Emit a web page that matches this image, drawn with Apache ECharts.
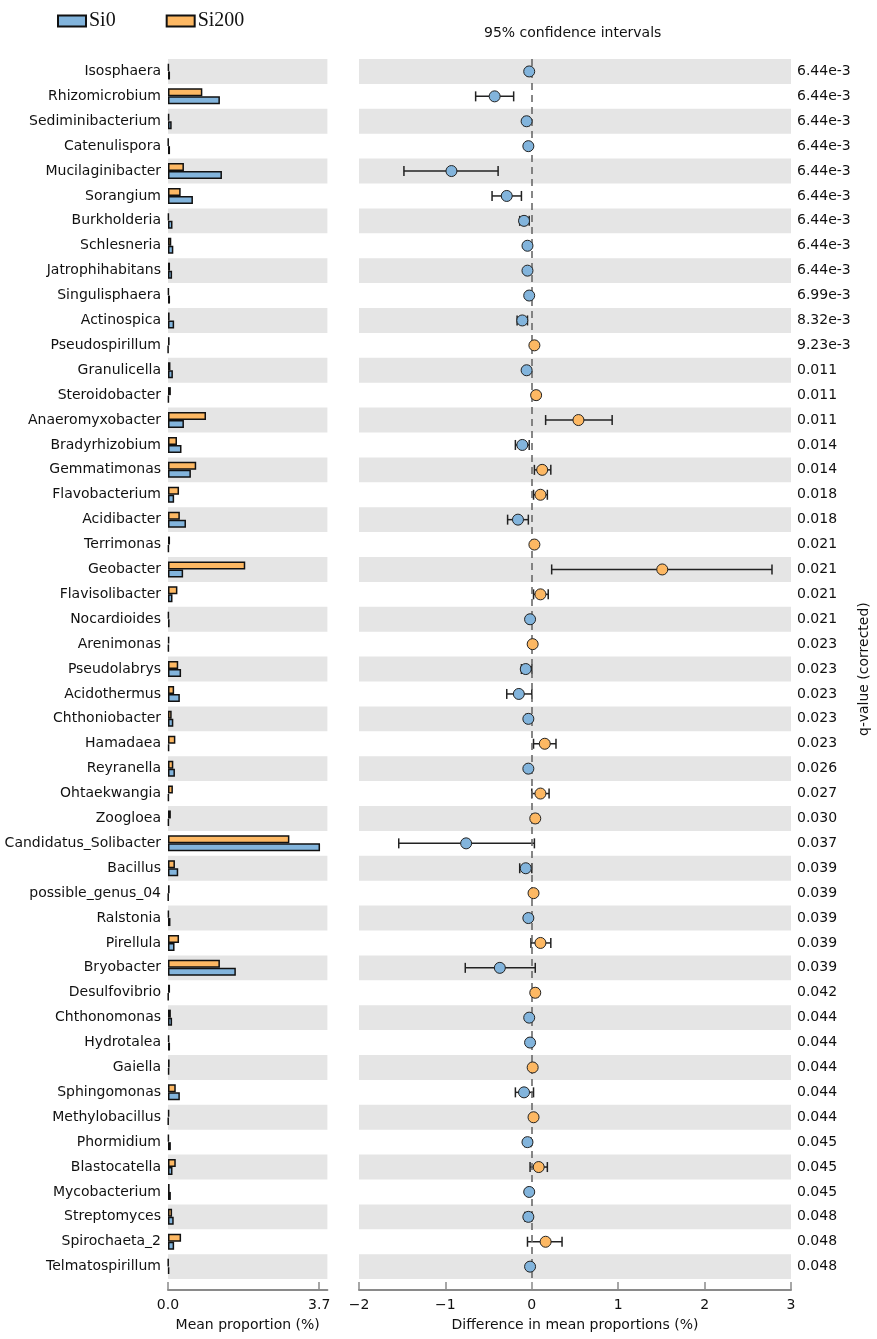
<!DOCTYPE html>
<html><head><meta charset="utf-8">
<script src="https://cdn.jsdelivr.net/npm/echarts@6/dist/echarts.min.js"></script>
<style>html,body{margin:0;padding:0;background:#fff}#c{width:877px;height:1339px}</style>
</head><body><div id="c"></div>
<script>
const genera = ['Isosphaera','Rhizomicrobium','Sediminibacterium','Catenulispora','Mucilaginibacter','Sorangium','Burkholderia','Schlesneria','Jatrophihabitans','Singulisphaera','Actinospica','Pseudospirillum','Granulicella','Steroidobacter','Anaeromyxobacter','Bradyrhizobium','Gemmatimonas','Flavobacterium','Acidibacter','Terrimonas','Geobacter','Flavisolibacter','Nocardioides','Arenimonas','Pseudolabrys','Acidothermus','Chthoniobacter','Hamadaea','Reyranella','Ohtaekwangia','Zoogloea','Candidatus_Solibacter','Bacillus','possible_genus_04','Ralstonia','Pirellula','Bryobacter','Desulfovibrio','Chthonomonas','Hydrotalea','Gaiella','Sphingomonas','Methylobacillus','Phormidium','Blastocatella','Mycobacterium','Streptomyces','Spirochaeta_2','Telmatospirillum'];
const si0Mean = [0.05,1.27,0.09,0.05,1.32,0.61,0.11,0.13,0.10,0.05,0.15,0.005,0.12,0.02,0.39,0.33,0.56,0.15,0.44,0.02,0.37,0.11,0.04,0.02,0.32,0.29,0.13,0.03,0.17,0.02,0.02,3.72,0.25,0.01,0.06,0.16,1.66,0.01,0.10,0.05,0.03,0.29,0.01,0.07,0.11,0.07,0.14,0.15,0.03];
const si200Mean = [0.02,0.84,0.03,0.01,0.39,0.31,0.02,0.08,0.05,0.02,0.04,0.04,0.06,0.07,0.93,0.22,0.69,0.27,0.29,0.05,1.89,0.23,0.02,0.03,0.25,0.15,0.09,0.18,0.13,0.12,0.07,2.97,0.17,0.04,0.02,0.27,1.27,0.05,0.07,0.03,0.04,0.19,0.03,0.02,0.19,0.04,0.10,0.32,0.01];
const meanDiff = [-0.03,-0.43,-0.06,-0.04,-0.93,-0.29,-0.09,-0.05,-0.05,-0.03,-0.11,0.03,-0.06,0.05,0.54,-0.11,0.12,0.10,-0.16,0.03,1.51,0.10,-0.02,0.01,-0.07,-0.15,-0.04,0.15,-0.04,0.10,0.04,-0.76,-0.07,0.02,-0.04,0.10,-0.37,0.04,-0.03,-0.02,0.01,-0.09,0.02,-0.05,0.08,-0.03,-0.04,0.16,-0.02];
const ciLow = [-0.05,-0.65,-0.09,-0.06,-1.48,-0.46,-0.14,-0.07,-0.07,-0.05,-0.17,0.01,-0.08,0.02,0.16,-0.19,0.03,0.02,-0.28,0.01,0.23,0.02,-0.04,-0.01,-0.12,-0.29,-0.07,0.02,-0.06,0.00,0.00,-1.54,-0.14,0.00,-0.06,-0.01,-0.77,0.01,-0.05,-0.04,-0.01,-0.19,0.00,-0.08,-0.02,-0.05,-0.08,-0.05,-0.04];
const ciHigh = [-0.01,-0.21,-0.03,-0.02,-0.39,-0.12,-0.03,-0.03,-0.03,-0.01,-0.05,0.05,-0.03,0.07,0.93,-0.03,0.22,0.18,-0.04,0.05,2.78,0.19,0.00,0.03,0.00,0.00,-0.01,0.28,-0.02,0.20,0.07,0.03,0.00,0.04,-0.02,0.22,0.04,0.07,-0.01,0.00,0.03,0.02,0.04,-0.01,0.18,-0.01,0.00,0.35,0.00];
const qValues = ['6.44e-3','6.44e-3','6.44e-3','6.44e-3','6.44e-3','6.44e-3','6.44e-3','6.44e-3','6.44e-3','6.99e-3','8.32e-3','9.23e-3','0.011','0.011','0.011','0.014','0.014','0.018','0.018','0.021','0.021','0.021','0.021','0.023','0.023','0.023','0.023','0.023','0.026','0.027','0.030','0.037','0.039','0.039','0.039','0.039','0.039','0.042','0.044','0.044','0.044','0.044','0.044','0.045','0.045','0.045','0.048','0.048','0.048'];
const groupNames = ['Si0','Si200'];
const leftTicks = [0, 3.7];

const BLUE = '#82b4dc', ORANGE = '#fdb863';
const FONT = 'DejaVu Sans';
const TXT = '#111';

const chart = echarts.init(document.getElementById('c'), null, {renderer:'canvas'});

const errData = genera.map((g,i)=>[ciLow[i], ciHigh[i], i]);
const dotData = genera.map((g,i)=>[meanDiff[i], i]);

const axisLineStyle = {color:'#8a8a8a', width:2};
const gridTop = 59, gridH = 49*24.9;
const n = genera.length;

chart.setOption({
  animation:false,
  textStyle:{fontFamily:FONT},
  legend:{
    data: groupNames, left:52, top:6, itemWidth:28, itemHeight:11, itemGap:50, icon:'rect',
    textStyle:{fontFamily:'Liberation Serif', fontSize:20, color:'#111', padding:[0,0,0,-2]}
  },
  graphic:[{type:'text', left:484, top:26, style:{text:'95% confidence intervals', font:'14px "DejaVu Sans"', fill:TXT}}],
  grid:[
    {left:168, top:gridTop, width:159.4, height:gridH, containLabel:false},
    {left:359, top:gridTop, width:432, height:gridH, containLabel:false}
  ],
  xAxis:[
    {gridIndex:0, type:'value', min:0, max:3.9, offset:11, position:'bottom',
     axisLine:{show:true, onZero:false, lineStyle:axisLineStyle},
     axisTick:{show:true, inside:true, length:8, customValues:leftTicks, lineStyle:{color:'#8a8a8a', width:1.5}},
     axisLabel:{customValues:leftTicks, formatter:v=>Number(v).toFixed(1), fontSize:14, color:TXT, margin:8},
     splitLine:{show:false},
     name:'Mean proportion (%)', nameLocation:'middle', nameGap:28, nameTextStyle:{fontSize:14, color:TXT}},
    {gridIndex:1, type:'value', min:-2, max:3, interval:1, offset:11, position:'bottom',
     axisLine:{show:true, onZero:false, lineStyle:axisLineStyle},
     axisTick:{show:true, inside:true, length:8, lineStyle:{color:'#8a8a8a', width:1.5}},
     axisLabel:{formatter:v=>String(v).replace('-','\u2212'), fontSize:14, color:TXT, margin:8},
     splitLine:{show:false},
     name:'Difference in mean proportions (%)', nameLocation:'middle', nameGap:28, nameTextStyle:{fontSize:14, color:TXT}}
  ],
  yAxis:[
    {gridIndex:0, type:'category', data:genera, inverse:true,
     axisLine:{show:false}, axisTick:{show:false},
     axisLabel:{fontSize:14, color:TXT, margin:7},
     splitArea:{show:true, areaStyle:{color:['#e5e5e5','rgba(255,255,255,0)']}}},
    {gridIndex:1, type:'category', data:qValues, inverse:true, position:'right',
     axisLine:{show:false}, axisTick:{show:false},
     axisLabel:{fontSize:14, color:TXT, margin:6},
     splitArea:{show:true, areaStyle:{color:['#e5e5e5','rgba(255,255,255,0)']}},
     name:'q-value (corrected)', nameLocation:'middle', nameRotate:90, nameGap:66,
     nameTextStyle:{fontSize:14, color:TXT}},
    {gridIndex:1, type:'value', inverse:true, min:-0.5, max:n-0.5, show:false,
     axisLine:{onZero:false}, splitLine:{show:false}}
  ],
  series:[
    {name:'Si200', type:'bar', xAxisIndex:0, yAxisIndex:0, data:si200Mean, barWidth:8, barGap:'0%',
     itemStyle:{color:ORANGE, borderColor:'#111', borderWidth:1.5}},
    {name:'Si0', type:'bar', xAxisIndex:0, yAxisIndex:0, data:si0Mean, barWidth:8, barGap:'0%',
     itemStyle:{color:BLUE, borderColor:'#111', borderWidth:1.5}},
    {type:'custom', xAxisIndex:1, yAxisIndex:2, data:errData, z:2,
     dimensions:['lo','hi','idx'], encode:{x:['lo','hi'], y:'idx'},
     renderItem:(params, api)=>{
       const a = api.coord([api.value(0), api.value(2)]);
       const b = api.coord([api.value(1), api.value(2)]);
       const h = 5;
       const st = {stroke:'#222', lineWidth:1.5};
       return {type:'group', children:[
         {type:'line', shape:{x1:a[0], y1:a[1], x2:b[0], y2:b[1]}, style:st},
         {type:'line', shape:{x1:a[0], y1:a[1]-h, x2:a[0], y2:a[1]+h}, style:st},
         {type:'line', shape:{x1:b[0], y1:b[1]-h, x2:b[0], y2:b[1]+h}, style:st}
       ]};
     },
     markLine:{silent:true, symbol:['none','none'], label:{show:false},
       lineStyle:{type:[7,5], color:'#6a6a6a', width:1.6}, data:[{xAxis:0}]}},
    {type:'scatter', xAxisIndex:1, yAxisIndex:2, data:dotData, symbolSize:11, z:5,
     itemStyle:{color:p=>p.value[0] >= 0 ? ORANGE : BLUE, borderColor:'#222', borderWidth:1, opacity:1}}
  ]
});
</script>
</body></html>
